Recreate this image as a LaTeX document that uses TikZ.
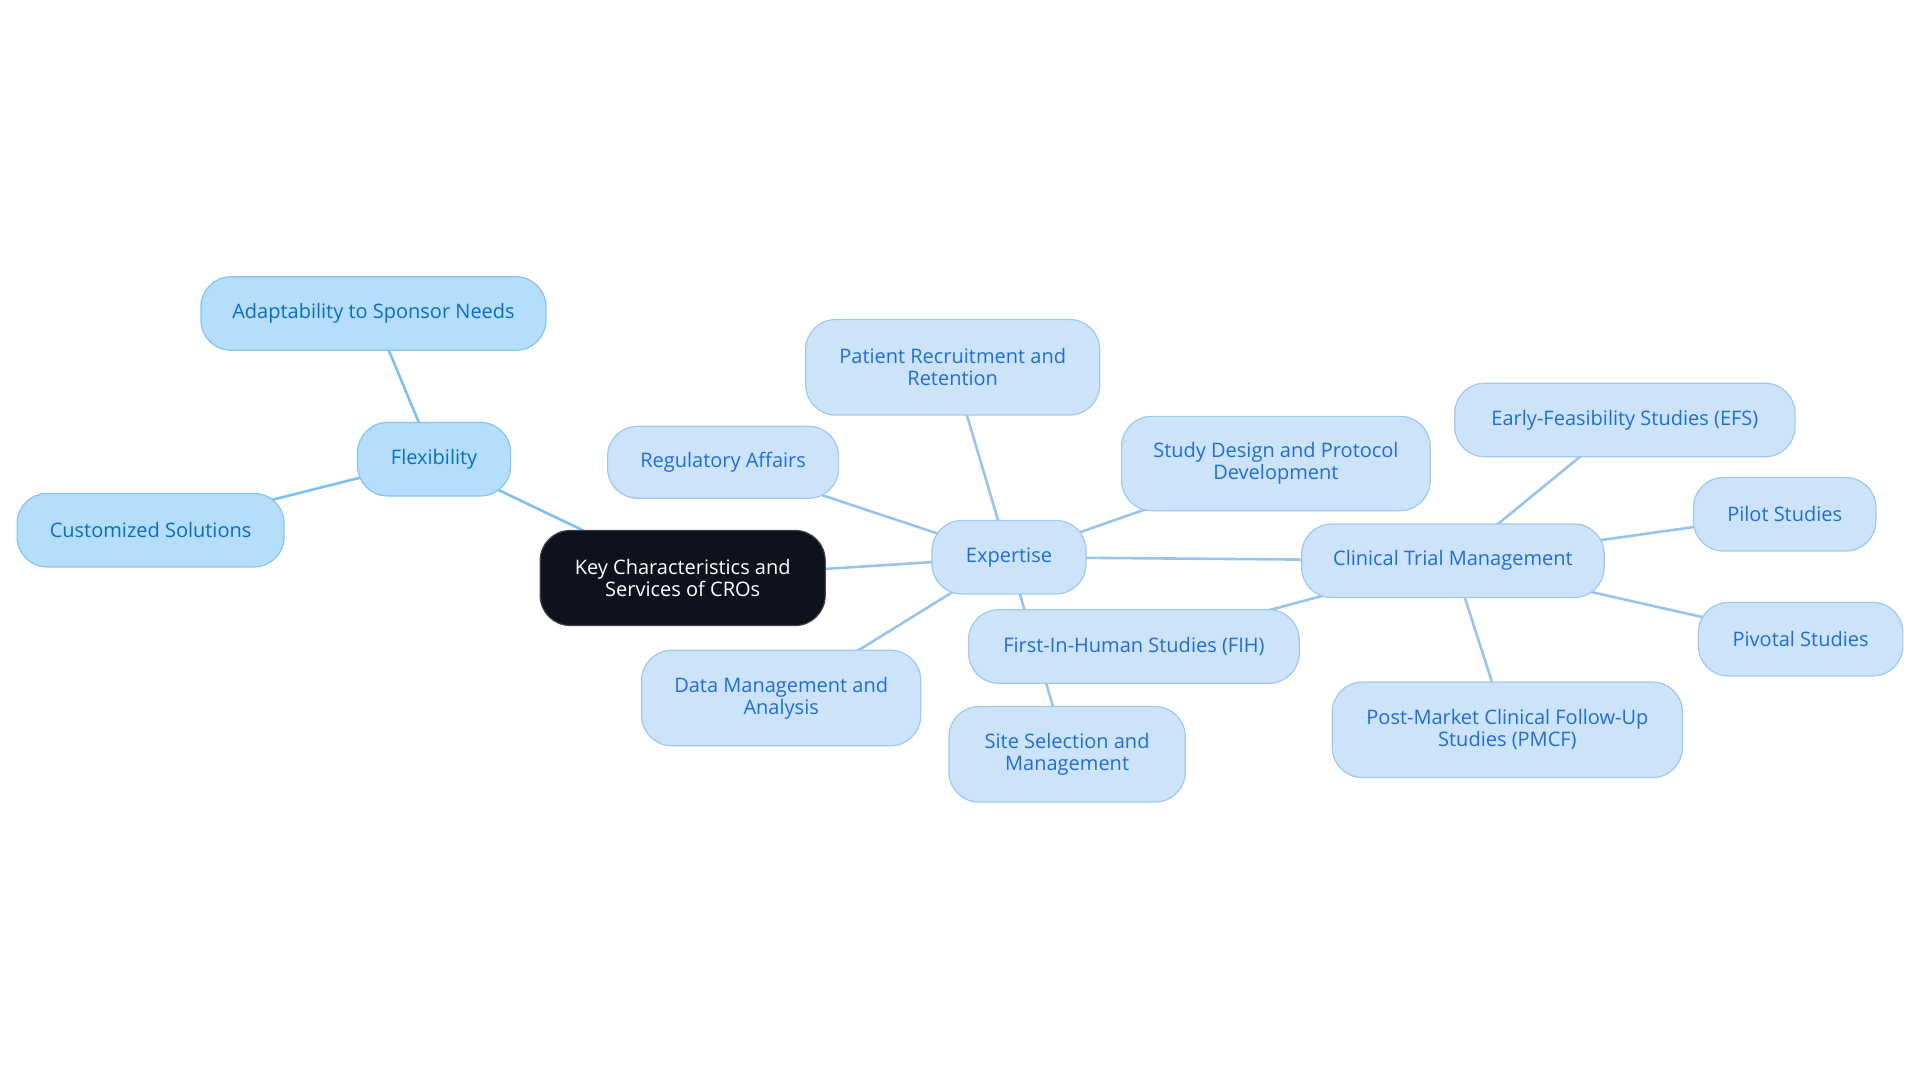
\documentclass[tikz,border=0pt]{standalone}
\usepackage{fontspec}
\setmainfont{Open Sans}
\usetikzlibrary{backgrounds}
\definecolor{flexfill}{HTML}{B4DEFC}
\definecolor{flexdraw}{HTML}{86C5F2}
\definecolor{flextext}{HTML}{0B6DBE}
\definecolor{expfill}{HTML}{CDE3FA}
\definecolor{expdraw}{HTML}{A0C8F2}
\definecolor{exptext}{HTML}{1F6ED4}
\definecolor{flexedge}{HTML}{7FC0F0}
\definecolor{expedge}{HTML}{98C4F0}
\definecolor{rootfill}{HTML}{0D121C}
\tikzset{
  base/.style={rounded corners=30pt, inner sep=0pt, align=center, line width=1.2pt,
    font=\fontsize{20}{22}\selectfont},
  rootbox/.style={base, fill=rootfill, draw=rootfill!80!white, text=white},
  flexbox/.style={base, fill=flexfill, draw=flexdraw, text=flextext},
  expbox/.style={base, fill=expfill, draw=expdraw, text=exptext},
  flexline/.style={draw=flexedge, line width=2.6pt},
  expline/.style={draw=expedge, line width=2.6pt},
}
\begin{document}
\begin{tikzpicture}[x=1pt,y=-1pt]
\useasboundingbox (0,0) rectangle (1920,1083);
\node[rootbox, minimum width=285pt, minimum height=95pt] (root) at (682.7,578) {Key Characteristics and\\Services of CROs};
\node[flexbox, minimum width=153pt, minimum height=73.5pt] (flex) at (434.1,459.2) {Flexibility};
\node[flexbox, minimum width=345pt, minimum height=73.5pt] (adapt) at (373.5,313.5) {Adaptability to Sponsor Needs};
\node[flexbox, minimum width=267pt, minimum height=73.5pt] (cust) at (150.6,530.2) {Customized Solutions};
\node[expbox, minimum width=154pt, minimum height=73.5pt] (exp) at (1009,557.2) {Expertise};
\node[expbox, minimum width=231pt, minimum height=72pt] (reg) at (723.1,462.3) {Regulatory Affairs};
\node[expbox, minimum width=294pt, minimum height=95.5pt] (pat) at (952.7,367.3) {Patient Recruitment and\\Retention};
\node[expbox, minimum width=308.6pt, minimum height=94.3pt] (study) at (1275.9,463.5) {Study Design and Protocol\\Development};
\node[expbox, minimum width=279pt, minimum height=95.5pt] (data) at (781.2,698) {Data Management and\\Analysis};
\node[expbox, minimum width=236.3pt, minimum height=95.5pt] (site) at (1067.1,754.3) {Site Selection and\\Management};
\node[expbox, minimum width=302.5pt, minimum height=73.5pt] (ctm) at (1452.9,560.8) {Clinical Trial Management};
\node[expbox, minimum width=330.6pt, minimum height=73.5pt] (fih) at (1133.9,646.5) {First-In-Human Studies (FIH)};
\node[expbox, minimum width=340.4pt, minimum height=73.5pt] (efs) at (1624.9,420) {Early-Feasibility Studies (EFS)};
\node[expbox, minimum width=182.4pt, minimum height=73.5pt] (pilot) at (1784.7,514.3) {Pilot Studies};
\node[expbox, minimum width=204.5pt, minimum height=73.5pt] (piv) at (1800.6,639.2) {Pivotal Studies};
\node[expbox, minimum width=350.2pt, minimum height=95.5pt] (pmcf) at (1507.4,729.8) {Post-Market Clinical Follow-Up\\Studies (PMCF)};
\begin{scope}[on background layer]
\draw[flexline] (root.center) -- (flex.center);
\draw[flexline] (flex.center) -- (adapt.center);
\draw[flexline] (flex.center) -- (cust.center);
\draw[expline] (root.center) -- (exp.center);
\draw[expline] (exp.center) -- (reg.center);
\draw[expline] (exp.center) -- (pat.center);
\draw[expline] (exp.center) -- (study.center);
\draw[expline] (exp.center) -- (data.center);
\draw[expline] (exp.center) -- (site.center);
\draw[expline] (exp.center) -- (ctm.center);
\draw[expline] (ctm.center) -- (fih.center);
\draw[expline] (ctm.center) -- (efs.center);
\draw[expline] (ctm.center) -- (pilot.center);
\draw[expline] (ctm.center) -- (piv.center);
\draw[expline] (ctm.center) -- (pmcf.center);
\end{scope}
\end{tikzpicture}
\end{document}
